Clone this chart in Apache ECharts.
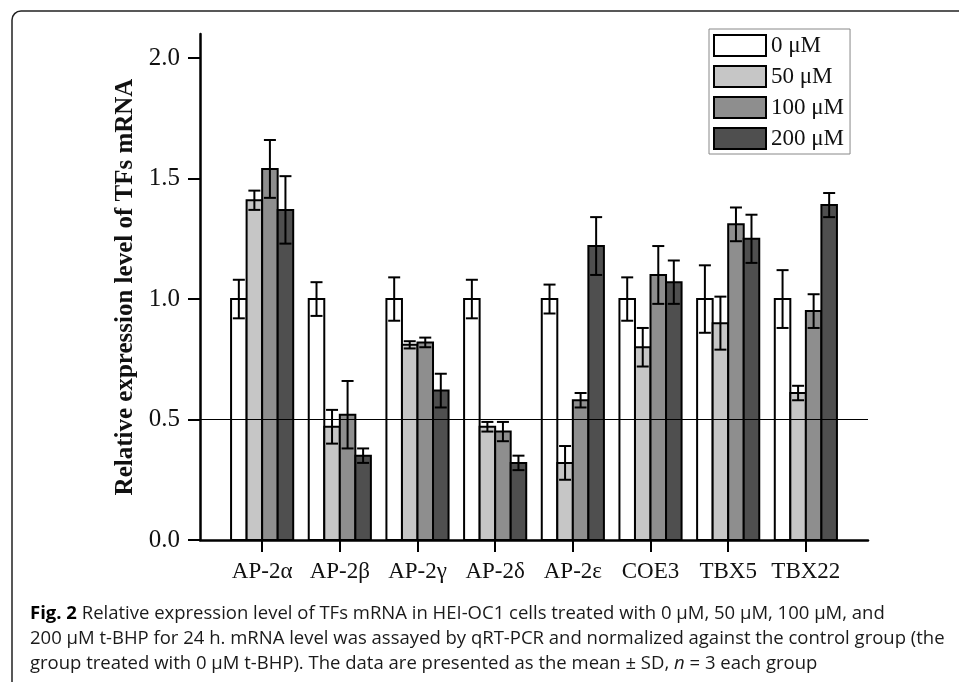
<!DOCTYPE html>
<html lang="en">
<head>
  <meta charset="utf-8">
  <title>Relative expression level of TFs mRNA</title>
  <script src="https://cdn.jsdelivr.net/npm/echarts@6.0.0/dist/echarts.min.js"></script>
  <style>
    html, body { margin: 0; padding: 0; background: #fff; }
    #main { width: 959px; height: 682px; }
  </style>
</head>
<body>
<div id="main"></div>
<script>
  // data
  var categories = ['AP-2α', 'AP-2β', 'AP-2γ', 'AP-2δ', 'AP-2ε', 'COE3', 'TBX5', 'TBX22'];
  var groups = ['0 μM', '50 μM', '100 μM', '200 μM'];
  var mean0   = [1.00, 1.00, 1.00, 1.00, 1.00, 1.00, 1.00, 1.00];
  var sd0     = [0.08, 0.07, 0.09, 0.08, 0.06, 0.09, 0.14, 0.12];
  var mean50  = [1.41, 0.47, 0.81, 0.47, 0.32, 0.80, 0.90, 0.61];
  var sd50    = [0.04, 0.07, 0.015, 0.02, 0.07, 0.08, 0.11, 0.03];
  var mean100 = [1.54, 0.52, 0.82, 0.45, 0.58, 1.10, 1.31, 0.95];
  var sd100   = [0.12, 0.14, 0.02, 0.04, 0.03, 0.12, 0.07, 0.07];
  var mean200 = [1.37, 0.35, 0.62, 0.32, 1.22, 1.07, 1.25, 1.39];
  var sd200   = [0.14, 0.03, 0.07, 0.03, 0.12, 0.09, 0.10, 0.05];
  var yTicks  = [0, 0.5, 1.0, 1.5, 2.0];
  var refLine = 0.5;

  var means = [mean0, mean50, mean100, mean200];
  var sds = [sd0, sd50, sd100, sd200];
  var colors = ['#ffffff', '#c6c6c6', '#8e8e8e', '#4f4f4f'];
  var barW = 0.2;        // bar width in category units
  var capHalf = 6;       // px

  var serif = '"Liberation Serif", "DejaVu Serif", serif';

  var chart = echarts.init(document.getElementById('main'));

  function makeRender(k) {
    var off = (k - 1.5) * barW;
    return function (params, api) {
      var x = api.value(0) + off;
      var v = api.value(1);
      var sd = api.value(2);
      var p0 = api.coord([x - barW / 2, 0]);
      var p1 = api.coord([x + barW / 2, v]);
      var top = api.coord([x, v + sd]);
      var bot = api.coord([x, v - sd]);
      var cx = (p0[0] + p1[0]) / 2;
      var line = { stroke: '#000', lineWidth: 2 };
      return {
        type: 'group',
        children: [
          { type: 'rect',
            shape: { x: p0[0], y: p1[1], width: p1[0] - p0[0], height: p0[1] - p1[1] },
            style: { fill: colors[k], stroke: '#000', lineWidth: 2 } },
          { type: 'line', shape: { x1: cx, y1: top[1], x2: cx, y2: bot[1] }, style: line },
          { type: 'line', shape: { x1: cx - capHalf, y1: top[1], x2: cx + capHalf, y2: top[1] }, style: line },
          { type: 'line', shape: { x1: cx - capHalf, y1: bot[1], x2: cx + capHalf, y2: bot[1] }, style: line }
        ]
      };
    };
  }

  var series = groups.map(function (g, k) {
    var s = {
      name: g,
      type: 'custom',
      renderItem: makeRender(k),
      itemStyle: { color: colors[k], borderColor: '#000', borderWidth: 2 },
      encode: { x: 0, y: 1 },
      data: categories.map(function (c, i) { return [i + 1, means[k][i], sds[k][i]]; }),
      silent: true
    };
    if (k === 0) {
      s.markLine = {
        silent: true,
        symbol: 'none',
        label: { show: false },
        lineStyle: { color: '#000', width: 1, type: 'solid' },
        data: [{ yAxis: refLine }]
      };
    }
    return s;
  });

  var catIdx = categories.map(function (c, i) { return i + 1; });

  var option = {
    animation: false,
    backgroundColor: '#fff',
    grid: { left: 200, right: 91, top: 34, bottom: 142 },
    legend: {
      orient: 'vertical',
      left: 709,
      top: 29,
      padding: [5, 6, 4, 4],
      itemGap: 8,
      itemWidth: 52,
      itemHeight: 21,
      icon: 'rect',
      borderColor: '#888',
      borderWidth: 1,
      textStyle: { fontFamily: serif, fontSize: 23, color: '#111' },
      data: groups.map(function (g, k) {
        return { name: g, itemStyle: { color: colors[k], borderColor: '#000', borderWidth: 2 } };
      })
    },
    xAxis: {
      type: 'value',
      min: 0.2,
      max: 8.8,
      axisLine: { lineStyle: { color: '#000', width: 2.5 } },
      axisTick: { customValues: catIdx, length: 12, inside: false, lineStyle: { color: '#000', width: 2 } },
      axisLabel: {
        customValues: catIdx,
        margin: 20,
        fontFamily: serif,
        fontSize: 23,
        color: '#111',
        formatter: function (v) { return categories[Math.round(v) - 1]; }
      },
      splitLine: { show: false }
    },
    yAxis: {
      type: 'value',
      min: 0,
      max: 2.1,
      name: 'Relative expression level of TFs mRNA',
      nameLocation: 'middle',
      nameGap: 60,
      nameTextStyle: { fontFamily: serif, fontSize: 25, fontWeight: 'bold', color: '#111' },
      axisLine: { show: true, lineStyle: { color: '#000', width: 2.5 } },
      axisTick: { show: true, customValues: yTicks, length: 12, lineStyle: { color: '#000', width: 2 } },
      axisLabel: {
        customValues: yTicks,
        margin: 20,
        fontFamily: serif,
        fontSize: 25,
        color: '#111',
        formatter: function (v) { return v.toFixed(1); }
      },
      splitLine: { show: false }
    },
    graphic: [
      { type: 'rect', silent: true,
        shape: { x: 12, y: 11, width: 980, height: 700, r: 9 },
        style: { fill: 'none', stroke: '#222', lineWidth: 1.5 } },
      { type: 'text', silent: true, left: 30, top: 601,
        style: {
          text: '{b|Fig. 2} Relative expression level of TFs mRNA in HEI-OC1 cells treated with 0 μM, 50 μM, 100 μM, and\n' +
                '200 μM t-BHP for 24 h. mRNA level was assayed by qRT-PCR and normalized against the control group (the\n' +
                'group treated with 0 μM t-BHP). The data are presented as the mean ± SD, {i|n} = 3 each group',
          font: '18.5px "Open Sans", sans-serif',
          fill: '#1a1a1a',
          lineHeight: 25,
          rich: {
            b: { fontFamily: '"Open Sans", sans-serif', fontSize: 18.5, fontWeight: 'bold', fill: '#000', lineHeight: 25 },
            i: { fontFamily: '"Open Sans", sans-serif', fontSize: 18.5, fontStyle: 'italic', fill: '#1a1a1a', lineHeight: 25 }
          }
        } }
    ],
    series: series
  };

  chart.setOption(option);
</script>
</body>
</html>
